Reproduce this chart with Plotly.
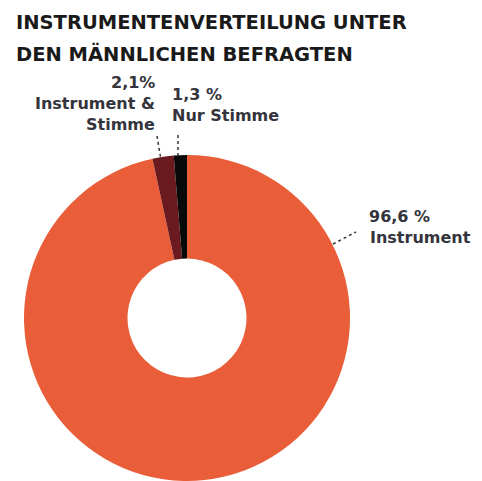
import plotly.graph_objects as go

categories = ["Instrument", "Instrument & Stimme", "Nur Stimme"]
values = [96.6, 2.1, 1.3]
value_labels = ["96,6 %", "2,1%", "1,3 %"]
colors = ["#E95D38", "#6B1A1F", "#0A0A0A"]

W, H = 482, 481

fig = go.Figure(go.Pie(
    labels=categories,
    values=values,
    sort=False,
    direction="clockwise",
    rotation=0,
    hole=0.365,
    marker=dict(colors=colors, line=dict(width=0)),
    textinfo="none",
    hoverinfo="label+percent",
    domain=dict(x=[24 / W, 350 / W], y=[0, 1 - 155 / H]),
    showlegend=False,
))

def px(x):
    return x / W

def py(y):
    return 1 - y / H

title_font = dict(family="DejaVu Sans", size=19.5, color="#1a1a1a", weight="bold")
label_font = dict(family="DejaVu Sans", size=16, color="#34343c", weight="bold")

def line(text, x, y, anchor):
    return dict(text=text, x=px(x), y=py(y), xanchor=anchor, yanchor="middle",
                font=label_font, showarrow=False, borderpad=0)

annotations = [
    dict(text="INSTRUMENTENVERTEILUNG UNTER", x=px(14), y=py(22), xanchor="left", yanchor="middle",
         font=title_font, showarrow=False),
    dict(text="DEN MÄNNLICHEN BEFRAGTEN", x=px(14), y=py(54), xanchor="left", yanchor="middle",
         font=title_font, showarrow=False),
    line(value_labels[1], 156, 82, "right"),
    line("Instrument &", 156, 103, "right"),
    line("Stimme", 156, 124, "right"),
    line(value_labels[2], 171, 94, "left"),
    line("Nur Stimme", 171, 115, "left"),
    line(value_labels[0], 368, 216, "left"),
    line("Instrument", 369, 237, "left"),
]

shapes = [
    dict(type="line", xref="paper", yref="paper", x0=px(157), y0=py(136), x1=px(161), y1=py(160),
         line=dict(color="#333", width=1.5, dash="dot")),
    dict(type="line", xref="paper", yref="paper", x0=px(178), y0=py(135), x1=px(178), y1=py(158),
         line=dict(color="#333", width=1.5, dash="dot")),
    dict(type="line", xref="paper", yref="paper", x0=px(333), y0=py(244), x1=px(356), y1=py(232),
         line=dict(color="#333", width=1.5, dash="dot")),
]

fig.update_layout(
    width=W, height=H,
    margin=dict(l=0, r=0, t=0, b=0),
    paper_bgcolor="white", plot_bgcolor="white",
    annotations=annotations,
    shapes=shapes,
)

fig.write_html("out.html")
